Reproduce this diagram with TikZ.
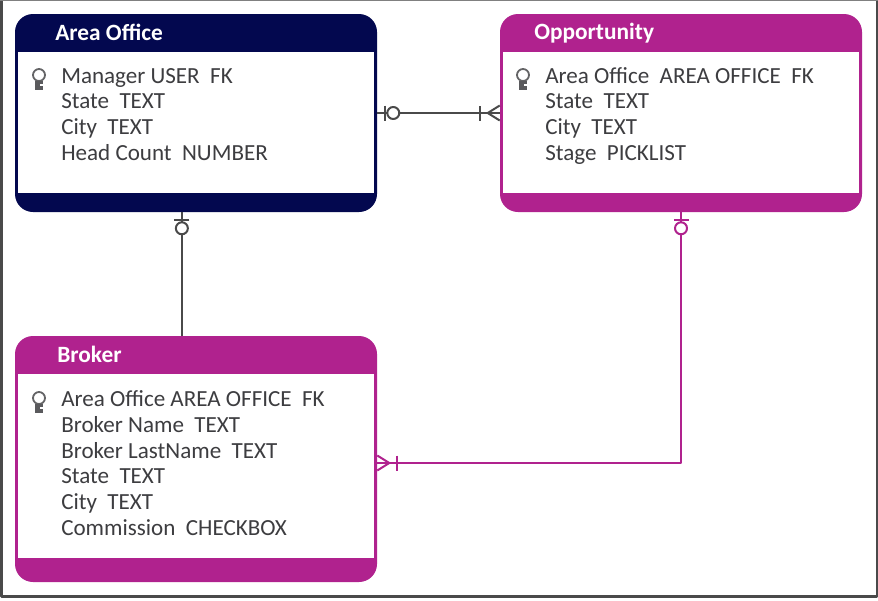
\documentclass[tikz,border=0pt]{standalone}
\usepackage{fontspec}
\setmainfont{Carlito}
\usetikzlibrary{calc, positioning}
\definecolor{AreaNavy}{HTML}{03084F}
\definecolor{BrokerPink}{HTML}{B0228E}
\definecolor{FieldGrey}{HTML}{3D3D40}
\definecolor{LineGrey}{HTML}{4A4A4A}
\tikzset{
  every picture/.style={line join=round},
  entitybox/.style={fill=#1,minimum width=362*0.025cm,rounded corners=0.45cm,inner sep=0pt},
  entityinner/.style={fill=white,inner sep=0pt,minimum width=356*0.025cm},
  entitytitle/.style={anchor=base west,text=white,inner sep=0pt,font=\fontsize{16.6}{18}\selectfont\bfseries},
  fieldline/.style={anchor=base west,text=FieldGrey,inner sep=0pt,font=\fontsize{16.4}{18}\selectfont},
  zeroone/.pic={% bar and circle, drawn from the box outwards
    \draw[line width=0.55mm] (8,-7.5) -- (8,7.5);
    \draw[line width=0.5mm,fill=white] (16,0) circle (6);
  },
  onemany/.pic={% crow's foot and bar, drawn from the box outwards
    \draw[line width=0.5mm] (0,-7.5) -- (12,0) -- (0,7.5);
    \draw[line width=0.55mm] (20,-7.5) -- (20,7.5);
  },
  keymark/.pic={
    \draw[FieldGrey!80,line width=0.45mm] (0,-5) circle (6);
    \fill[FieldGrey!85] (-4,1) rectangle (4,10);
    \fill[white] (1,4) rectangle (4,5.5);
  },
}
\newcommand\entity[8]{% name, title, title pos, centre x, centre y, height, colour, white height
  \node[entitybox=#7,minimum height=#6*0.025cm] (#1) at (#4,#5) {};
  \node[entityinner,minimum height=#8*0.025cm,anchor=north] (#1in) at ($(#1.north)+(0,38)$) {};
  \node[entitytitle] (#1title) at (#3) {#2};
}
\begin{document}
\begin{tikzpicture}[x=0.025cm,y=-0.025cm]
  \useasboundingbox (0,0) rectangle (878,600);
  \fill[white] (0,0) rectangle (878,600);
  \draw[LineGrey,line width=0.6mm] (1.5,-2) -- (1.5,596.5) -- (877,596.5) -- (877,-2);
  \draw[LineGrey!70,line width=0.3mm] (0,0.5) -- (878,0.5);

  \entity{office}{Area Office}{55,40}{196}{113}{198}{AreaNavy}{141}
  \entity{oppty}{Opportunity}{534,39}{681}{113}{198}{BrokerPink}{141}
  \entity{broker}{Broker}{57,362}{196}{459}{246}{BrokerPink}{184}

  \coordinate (officeout) at ($(office.south west)!0.461!(office.south east)$);
  \coordinate (brokerin) at (officeout |- broker.north);
  \coordinate (brokerside) at ($(broker.east)+(0,4)$);

  % connectors
  \draw[LineGrey,line width=0.5mm] (office) -- (oppty);
  \pic[LineGrey] at (office.east) {zeroone};
  \pic[LineGrey,rotate=180] at (oppty.west) {onemany};
  \draw[LineGrey,line width=0.55mm] (officeout) -- (brokerin);
  \pic[LineGrey,rotate=-90] at (officeout) {zeroone};
  \draw[BrokerPink,line width=0.5mm] (oppty.south) |- (brokerside);
  \pic[BrokerPink,rotate=-90] at (oppty.south) {zeroone};
  \pic[BrokerPink] at (brokerside) {onemany};

  % fields
  \pic at (39,80) {keymark};
  \foreach \ypos/\ftext [count=\i] in {83/Manager USER\ \ FK, 108/State\ \ TEXT, 134/City\ \ TEXT, 160/Head Count\ \ NUMBER}{
    \node[fieldline] (officef\i) at (61,\ypos) {\ftext};
  }
  \pic at (523,80) {keymark};
  \foreach \ypos/\ftext [count=\i] in {83/Area Office\ \ AREA OFFICE\ \ FK, 108/State\ \ TEXT, 134/City\ \ TEXT, 160/Stage\ \ PICKLIST}{
    \node[fieldline] (opptyf\i) at (545,\ypos) {\ftext};
  }
  \pic at (39,403) {keymark};
  \foreach \ypos/\ftext [count=\i] in {406/Area Office AREA OFFICE\ \ FK, 432/Broker Name\ \ TEXT, 458/Broker LastName\ \ TEXT, 483/State\ \ TEXT, 509/City\ \ TEXT, 535/Commission\ \ CHECKBOX}{
    \node[fieldline] (brokerf\i) at (61,\ypos) {\ftext};
  }
\end{tikzpicture}
\end{document}
